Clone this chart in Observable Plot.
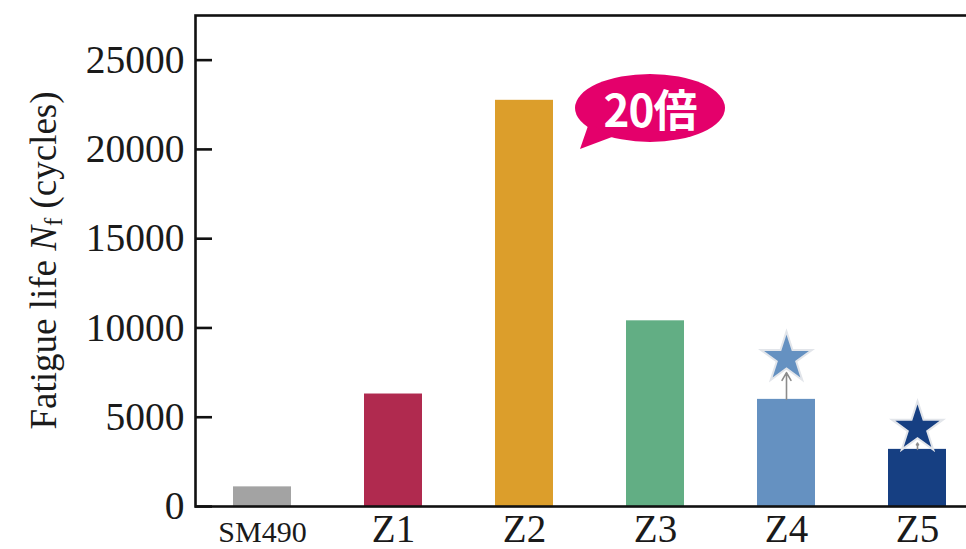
<!DOCTYPE html>
<html><head><meta charset="utf-8">
<script src="https://cdn.jsdelivr.net/npm/d3@7"></script>
<script src="https://cdn.jsdelivr.net/npm/@observablehq/plot@0.6"></script>
<style>html,body{margin:0;padding:0;background:#fff;overflow:hidden}</style>
</head><body><div id="chart"></div>
<script>
const categories = ["SM490", "Z1", "Z2", "Z3", "Z4", "Z5"];
const fatigueLife = [1100, 6300, 22750, 10400, 6000, 3200];
const barColors = ["#a3a3a3", "#b02a4f", "#dc9e2b", "#62ae84", "#6591c1", "#163f82"];
const yTicks = [0, 5000, 10000, 15000, 20000, 25000];
const runoutCats = ["Z4", "Z5"];
const runoutArrowFrom = [6000, 3200];
const runoutArrowTo = [7500, 3550];
const runoutStar = [8300, 4400];
const calloutText = "20倍";
const calloutCat = "Z2";
const calloutValue = 20000;
const yLabelParts = ["Fatigue life ", "N", "f", " (cycles)"];

const bars = categories.map((c, i) => ({cat: c, value: fatigueLife[i]}));
const runouts = runoutCats.map((c, i) => ({cat: c, from: runoutArrowFrom[i], to: runoutArrowTo[i], star: runoutStar[i]}));
const serif = "Liberation Serif, Times New Roman, serif";

const plot = Plot.plot({
  width: 966, height: 549,
  marginLeft: 195, marginRight: -18, marginTop: 15, marginBottom: 43,
  style: {background: "#fff", fontFamily: serif, color: "#1a1a1a"},
  x: {domain: categories, paddingInner: 0.56, paddingOuter: 0.28, axis: null},
  y: {domain: [0, 27500], axis: null},
  color: {domain: categories, range: barColors},
  marks: [
    Plot.barY(bars, {x: "cat", y: "value", fill: "cat"}),
    Plot.arrow(runouts, {x: "cat", y1: "from", y2: "to", stroke: "#8c8c8c", strokeWidth: 1.6, headLength: 9}),
    Plot.dot(runouts, {x: "cat", y: "star", symbol: "star", r: 16, fill: "cat", stroke: "#e2e5ea", strokeWidth: 2}),
    Plot.frame({stroke: "#111", strokeWidth: 2.6}),
    Plot.axisY({ticks: yTicks, tickSize: 17, dx: 17, tickFormat: () => "", strokeWidth: 2.6, stroke: "#111", label: null}),
    Plot.axisY({ticks: yTicks, tickSize: 0, tickPadding: 11, tickFormat: d3.format("d"), fontSize: 39.5, fontFamily: serif, fill: "#1a1a1a", label: null}),
    Plot.text(bars, {x: "cat", frameAnchor: "bottom", dy: 35, lineAnchor: "bottom", text: "cat",
      fontSize: d => d.cat === "SM490" ? 30 : 39, fontFamily: serif, fill: "#1a1a1a"})
  ]
});
document.getElementById("chart").appendChild(plot);

const svg = d3.select(plot);
const xs = plot.scale("x"), ys = plot.scale("y");
const tipX = xs.apply(calloutCat) + xs.bandwidth / 2 + 56;
const tipY = ys.apply(calloutValue);
const cx = tipX + 70, cy = tipY - 41;
const g = svg.append("g");
g.append("ellipse").attr("cx", cx).attr("cy", cy).attr("rx", 75).attr("ry", 34).attr("fill", "#e4006b");
g.append("path").attr("d", `M${tipX},${tipY} L${tipX + 9},${tipY - 26} L${tipX + 32},${tipY - 12} Z`).attr("fill", "#e4006b");
g.append("text").attr("x", cx).attr("y", cy).attr("text-anchor", "middle").attr("dominant-baseline", "central")
  .attr("font-family", "Noto Sans CJK JP, Noto Sans, sans-serif").attr("font-weight", "bold")
  .attr("font-size", 44).attr("letter-spacing", -1).attr("fill", "#fff").text(calloutText);

const yl = svg.append("text").attr("transform", `translate(56,${(15 + 506) / 2}) rotate(-90)`)
  .attr("text-anchor", "middle").style("font-family", serif).attr("font-size", 37).attr("fill", "#1a1a1a");
yl.append("tspan").text(yLabelParts[0]);
yl.append("tspan").attr("font-style", "italic").text(yLabelParts[1]);
yl.append("tspan").attr("font-size", 25).attr("dy", 6).text(yLabelParts[2]);
yl.append("tspan").attr("dy", -6).text(yLabelParts[3]);
</script></body></html>
